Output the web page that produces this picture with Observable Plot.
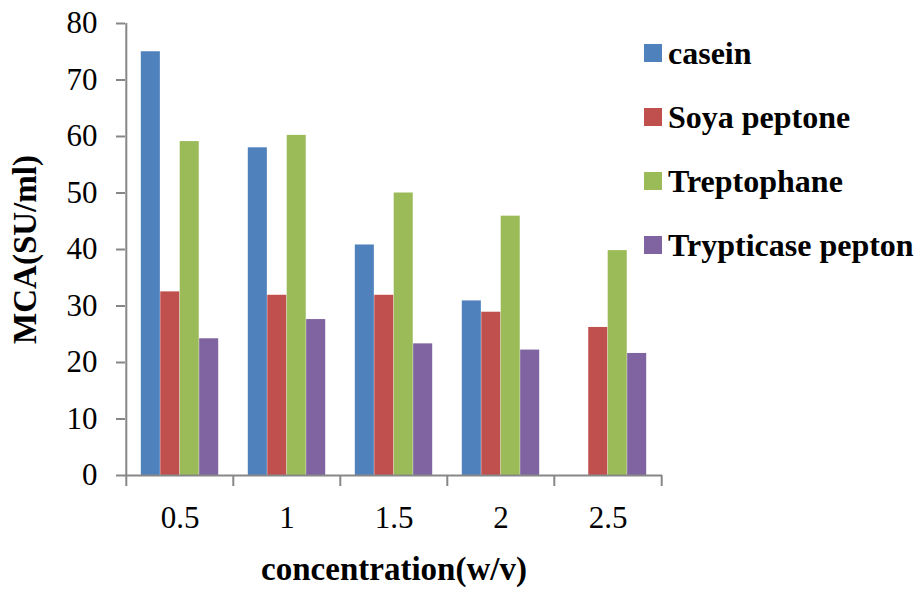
<!DOCTYPE html>
<html><head><meta charset="utf-8">
<script src="https://cdn.jsdelivr.net/npm/d3@7"></script>
<script src="https://cdn.jsdelivr.net/npm/@observablehq/plot@0.6"></script>
<style>
body{margin:0;background:#fff;}
#wrap{position:relative;width:922px;height:592px;}
#wrap, #wrap svg, #wrap svg text{font-family:"Liberation Serif","Times New Roman",Times,"DejaVu Serif",serif !important;}
#legend{position:absolute;left:644px;top:21px;font-weight:bold;font-size:32px;color:#000;}
.item{display:flex;align-items:center;height:64px;white-space:nowrap;}
.sw{width:18px;height:18px;margin-right:6px;flex:none;}
g[aria-label="y-axis label"] text, g[aria-label="x-axis label"] text{font-weight:bold;font-size:33px;}
</style></head><body><div id="wrap"><div id="legend"></div></div>
<script>
const concentrations = ["0.5", "1", "1.5", "2", "2.5"];
const seriesNames = ["casein", "Soya peptone", "Treptophane", "Trypticase pepton"];
const casein = [75, 58, 40.8, 30.9, null];
const soyaPeptone = [32.5, 31.9, 31.9, 28.9, 26.2];
const treptophane = [59.1, 60.2, 50, 45.9, 39.8];
const trypticasePepton = [24.2, 27.6, 23.3, 22.2, 21.6];
const yTicks = [0, 10, 20, 30, 40, 50, 60, 70, 80];
const colors = ["#4F81BD", "#C0504D", "#9BBB59", "#8064A2"];

const seriesValues = [casein, soyaPeptone, treptophane, trypticasePepton];
const W = 922, H = 592, ML = 125, MR = 260, MT = 23, MB = 117;
const bw = (W - ML - MR) / concentrations.length;
const outer = 14.8, barW = 19.45;
const gray = "#878787";

const barMarks = seriesValues.map((vals, s) =>
  Plot.barY(
    concentrations.map((c, i) => ({c, v: vals[i]})).filter(d => d.v != null),
    {x: "c", y: "v", fill: colors[s],
     insetLeft: outer + s * barW,
     insetRight: bw - outer - (s + 1) * barW}
  )
);

const chart = Plot.plot({
  width: W, height: H,
  marginLeft: ML, marginRight: MR, marginTop: MT, marginBottom: MB,
  style: {fontFamily: "'Liberation Serif', 'Times New Roman', serif", fontSize: "31px", background: "white", overflow: "visible"},
  x: {domain: concentrations, padding: 0},
  y: {domain: [0, 80]},
  marks: [
    ...barMarks,
    Plot.ruleY([0], {stroke: gray, strokeWidth: 2}),
    Plot.ruleX([concentrations[0]], {x: d => d, dx: -bw / 2, y1: 0, y2: 80, stroke: gray, strokeWidth: 2}),
    Plot.ruleX(concentrations, {x: d => d, dx: -bw / 2, y1: 0, y2: 0, insetBottom: -11, stroke: gray, strokeWidth: 2}),
    Plot.ruleX([concentrations[concentrations.length - 1]], {x: d => d, dx: bw / 2, y1: 0, y2: 0, insetBottom: -11, stroke: gray, strokeWidth: 2}),
    Plot.axisY({ticks: yTicks, tickSize: 9, tickPadding: 19, stroke: gray, strokeWidth: 2, fontSize: 31,
      label: "MCA(SU/ml)", labelAnchor: "center", labelOffset: 113, labelArrow: "none"}),
    Plot.axisX({tickSize: 0, tickPadding: 30, fontSize: 31,
      label: "concentration(w/v)", labelAnchor: "center", labelOffset: 104, labelArrow: "none"})
  ]
});
document.getElementById("wrap").prepend(chart);

const legend = document.getElementById("legend");
seriesNames.forEach((name, i) => {
  const row = document.createElement("div");
  row.className = "item";
  const sw = document.createElement("span");
  sw.className = "sw";
  sw.style.background = colors[i];
  const t = document.createElement("span");
  t.textContent = name;
  row.append(sw, t);
  legend.append(row);
});
</script></body></html>
